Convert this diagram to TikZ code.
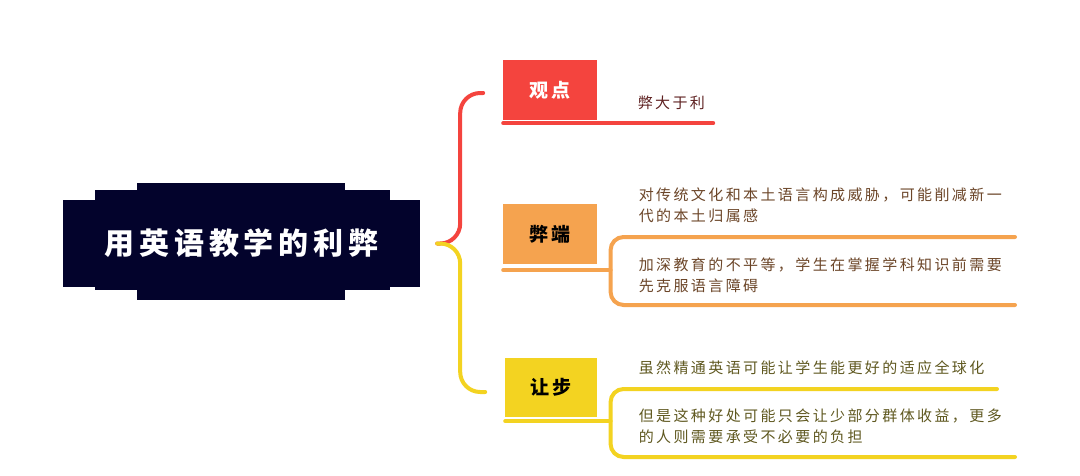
\documentclass[tikz,border=0pt]{standalone}
\usepackage{fontspec}
\newfontfamily\cjk[LetterSpace=16]{Noto Sans CJK SC}
\newfontfamily\cjkhead[LetterSpace=16]{Noto Sans CJK SC}
\usetikzlibrary{positioning}

\definecolor{navy}{HTML}{03032C}
\definecolor{redc}{HTML}{F4443E}
\definecolor{orangec}{HTML}{F5A34F}
\definecolor{yellowc}{HTML}{F3D321}
\definecolor{redtext}{HTML}{5E2121}
\definecolor{orangetext}{HTML}{6B4528}
\definecolor{yellowtext}{HTML}{5F5820}

\tikzset{
  topicbox/.style={fill=navy, text=white, minimum width=357pt, minimum height=87pt,
    inner sep=0pt, font=\cjkhead\bfseries\fontsize{30}{31}\selectfont},
  tagbox/.style={minimum width=94pt, inner sep=0pt,
    font=\cjkhead\bfseries\fontsize{19}{20}\selectfont},
  leaf/.style={inner sep=0pt, align=left, font=\cjk\fontsize{15}{21}\selectfont},
  branch/.style={line width=4pt, line cap=round, rounded corners=20pt},
  bracket/.style={line width=4pt, line cap=round, rounded corners=13pt},
  underline/.style={line width=4pt, line cap=round},
}

\begin{document}
\begin{tikzpicture}[x=1pt, y=-1pt]
    \useasboundingbox (0,0) rectangle (1080,475);

    % ragged title block
    \fill[navy] (137,183) rectangle (345,300);
    \fill[navy] (95,190) rectangle (390,290);
    \fill[navy] (68,200) rectangle (408,287);
    \node[topicbox] (topic) at (241.5,243.5) {用英语教学的利弊};
    \coordinate [right=17pt of topic] (fork);

    \node [tagbox, fill=redc, text=white, minimum height=60pt, right=83pt of topic, yshift=153.5pt] (view) {观点};
    \node [tagbox, fill=orangec, text=black, minimum height=60pt, right=83pt of topic, yshift=9.5pt] (harm) {弊端};
    \node [tagbox, fill=yellowc, text=black, minimum width=92pt, minimum height=59pt, right=85pt of topic, yshift=-144pt] (conc) {让步};

    \node [leaf, text=redtext, right=40pt of view, yshift=-13pt] (v1) {弊大于利};
    \node [leaf, text=orangetext, right=41pt of harm, yshift=28.5pt] (h1) {对传统文化和本土语言构成威胁，可能削减新一\\代的本土归属感};
    \node [leaf, text=orangetext, right=41pt of harm, yshift=-41.5pt] (h2) {加深教育的不平等，学生在掌握学科知识前需要\\先克服语言障碍};
    \node [leaf, text=yellowtext, right=41pt of conc, yshift=19.5pt] (c1) {虽然精通英语可能让学生能更好的适应全球化};
    \node [leaf, text=yellowtext, right=41pt of conc, yshift=-39pt] (c2) {但是这种好处可能只会让少部分群体收益，更多\\的人则需要承受不必要的负担};

    \coordinate [xshift=13pt, yshift=-6pt] (hknot) at (harm.south east);
    \coordinate [xshift=13pt, yshift=-4pt] (cknot) at (conc.south east);
    \coordinate (h1end) at (1015,237);
    \coordinate (h2end) at (1015,305);
    \coordinate (c1end) at (997,389);
    \coordinate (c2end) at (1015,457);

    % branches from the title
    \draw[branch, redc] (fork) -- ++(23,0) |- ([xshift=-20pt, yshift=-3pt]view.west);
    \draw[branch, yellowc] (fork) -- ++(23,0) |- ([xshift=-20pt, yshift=-4.5pt]conc.west);

    % underlines and brackets
    \draw[underline, redc] ([yshift=-3pt]view.south west) -- ++(210,0);
    \draw[underline, orangec] ([yshift=-6pt]harm.south west) -- (hknot);
    \draw[bracket, orangec] (h1end) -| (hknot) |- (h2end);
    \draw[underline, yellowc] ([yshift=-4pt]conc.south west) -- (cknot);
    \draw[bracket, yellowc] (c1end) -| (cknot) |- (c2end);
\end{tikzpicture}
\end{document}
